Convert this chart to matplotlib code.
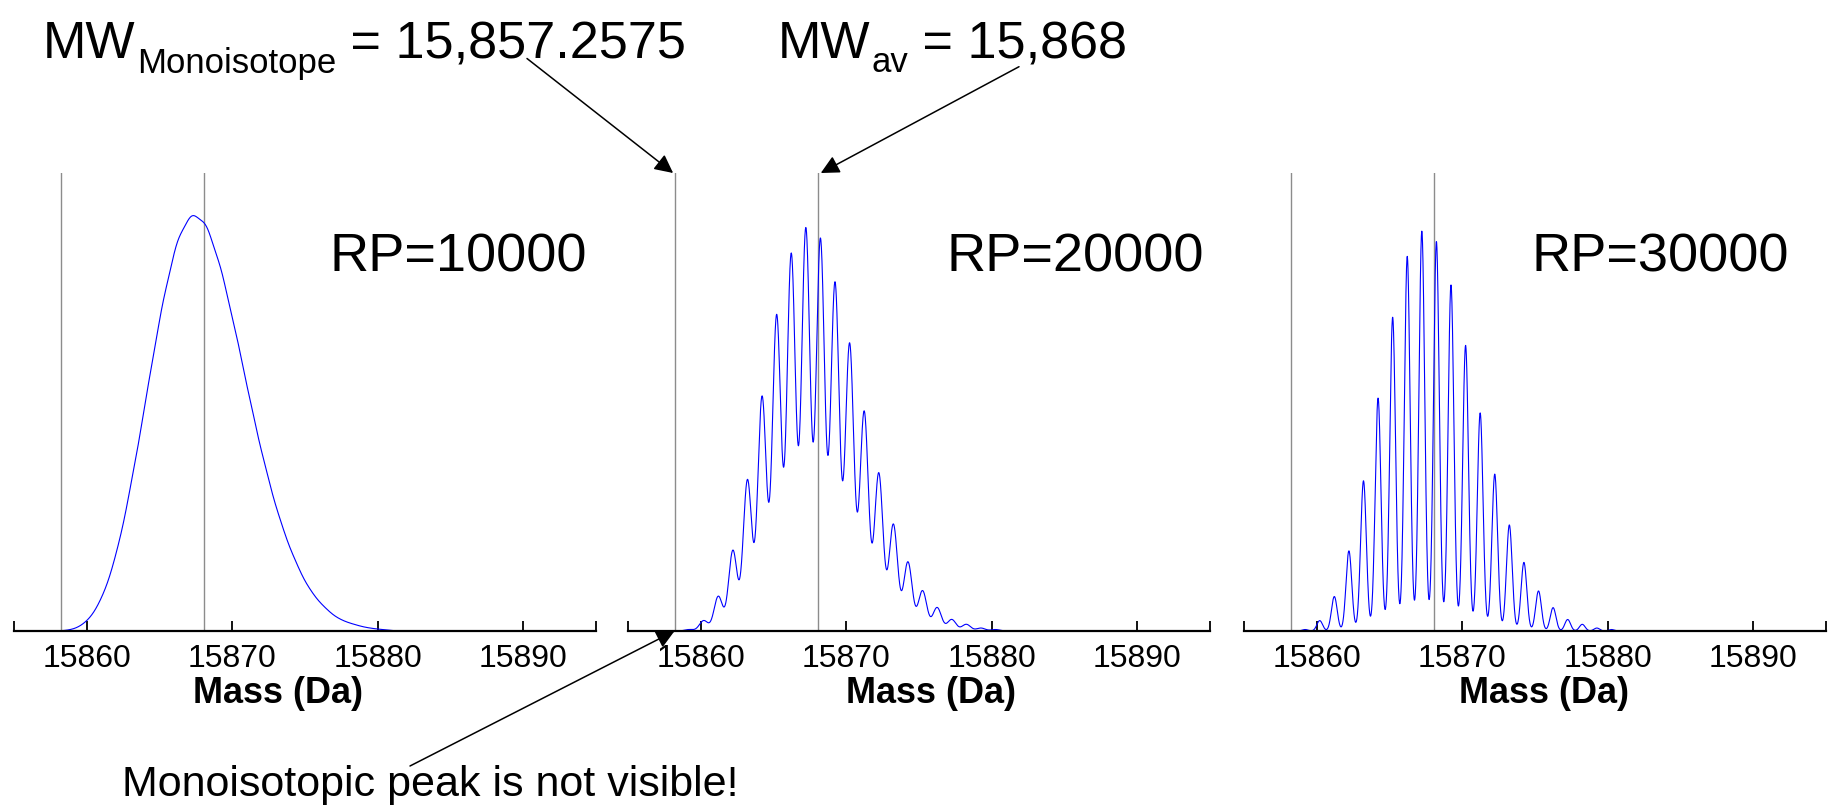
"""Simulated isotope envelopes of a ~15.9 kDa protein at three resolving powers."""
import matplotlib
matplotlib.use("Agg")
import matplotlib.pyplot as plt
import numpy as np

plt.rcParams["font.family"] = ["Liberation Sans", "DejaVu Sans"]

# ---- data ----
resolving_powers = [10000, 20000, 30000]
rp_labels = ["RP=10000", "RP=20000", "RP=30000"]
mass_ticks = [15860, 15870, 15880, 15890]
mass_limits = (15855, 15895)
mono_mass_line = 15858.2      # monoisotopic marker (label value 15,857.2575)
avg_mass_line = 15868.05      # average mass marker (label value 15,868)
isotope_spacing = 1.0024
isotope_index = list(range(23))
isotope_height = [0, 4, 28, 93, 216, 405, 628, 846, 1010, 1078, 1050, 933,
                  770, 588, 423, 286, 185, 108, 63, 31, 18, 8, 4]
peak_top = [0.907, 0.881, 0.873]   # apex of each trace, fraction of y-range
trace_range = (15857.6, 15890.0)

W, H = 1834, 805
BLUE = "#0000ff"
GREY = "#8c8c8c"


def spectrum(rp, top):
    x = np.arange(trace_range[0], trace_range[1], 0.01)
    centres = mono_mass_line + np.array(isotope_index) * isotope_spacing
    sigma = centres.mean() / (rp * 2.68)
    y = np.zeros_like(x)
    for c, h in zip(centres, isotope_height):
        y += h * np.exp(-(x - c) ** 2 / (2 * sigma ** 2))
    return x, y / y.max() * top


def sub_label(fig, x_px, base_px, main, sub, rest, size=37.5, sub_size=25, drop=14):
    """Write main + lowered subscript + rest, one piece after another."""
    r = fig.canvas.get_renderer()
    t = fig.text(x_px / W, 1 - base_px / H, main, fontsize=size, va="baseline")
    x_px = t.get_window_extent(r).x1 + 1
    t = fig.text(x_px / W, 1 - (base_px + drop) / H, sub, fontsize=sub_size, va="baseline")
    x_px = t.get_window_extent(r).x1
    fig.text(x_px / W, 1 - base_px / H, rest, fontsize=size, va="baseline")


fig = plt.figure(figsize=(W / 100, H / 100), dpi=100)
lefts = [14, 628, 1244]
ax_w, bottom, top = 582, 631, 173
label_x = [0.454, 0.520, 0.516]
rp_x = [0.985, 0.989, 0.937]

axes = []
for i, rp in enumerate(resolving_powers):
    ax = fig.add_axes([lefts[i] / W, (H - bottom) / H, ax_w / W, (bottom - top) / H])
    x, y = spectrum(rp, peak_top[i])
    ax.axvline(mono_mass_line, color=GREY, lw=1.0)
    ax.axvline(avg_mass_line, color=GREY, lw=1.0)
    ax.plot(x, y, color=BLUE, lw=0.8)
    ax.set_xlim(*mass_limits)
    ax.set_ylim(0, 1)
    ax.set_xticks(mass_ticks)
    ax.set_xticks(list(mass_limits), minor=True)
    ax.tick_params(axis="x", which="both", direction="in", length=7, width=1.3,
                   labelsize=23, pad=9)
    ax.tick_params(axis="x", which="minor", labelbottom=False)
    ax.set_yticks([])
    for s in ("top", "right", "left"):
        ax.spines[s].set_visible(False)
    ax.spines["bottom"].set_linewidth(1.6)
    ax.set_xlabel("Mass (Da)", fontsize=26, fontweight="bold")
    ax.xaxis.set_label_coords(label_x[i], -0.098)
    ax.text(rp_x[i], 0.786, rp_labels[i], transform=ax.transAxes,
            ha="right", va="baseline", fontsize=39)
    axes.append(ax)

# header labels
sub_label(fig, 43, 58.5, "MW", "Monoisotope", " = 15,857.2575")
sub_label(fig, 778, 58.5, "MW", "av", " = 15,868")
fig.text(122 / W, 1 - 796 / H, "Monoisotopic peak is not visible!",
         fontsize=31, ha="left", va="baseline")

arrow = dict(arrowstyle="-|>", color="k", lw=1.1, mutation_scale=28,
             shrinkA=0, shrinkB=0)
ax2 = axes[1]
ax2.annotate("", xy=(mono_mass_line - 0.1, 1.0), xycoords="data",
             xytext=(527 / W, 1 - 58.5 / H), textcoords="figure fraction",
             arrowprops=arrow, annotation_clip=False)
ax2.annotate("", xy=(avg_mass_line + 0.2, 1.0), xycoords="data",
             xytext=(1019 / W, 1 - 66.7 / H), textcoords="figure fraction",
             arrowprops=arrow, annotation_clip=False)
ax2.annotate("", xy=(mono_mass_line, 0.0), xycoords="data",
             xytext=(410 / W, 1 - 766 / H), textcoords="figure fraction",
             arrowprops=arrow, annotation_clip=False)

fig.savefig("out.png", dpi=100)
